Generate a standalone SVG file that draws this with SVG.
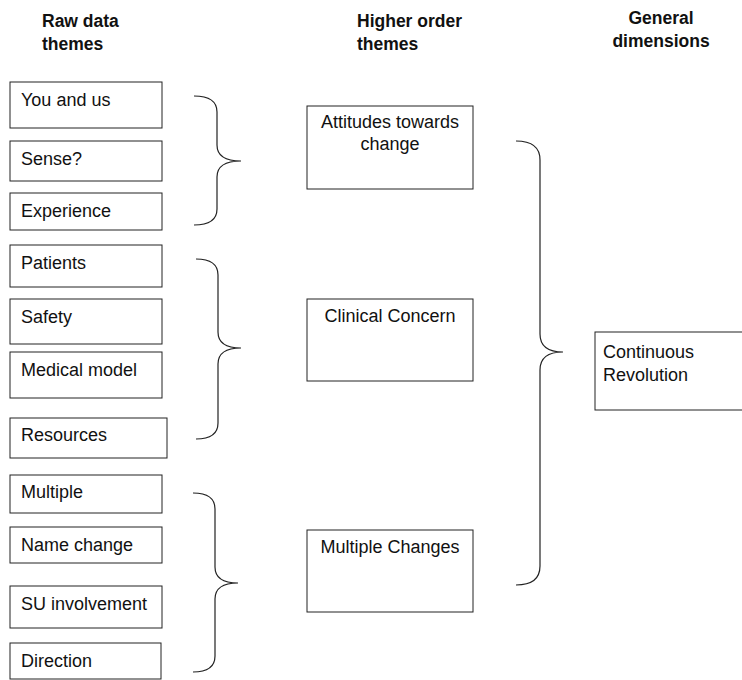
<svg xmlns="http://www.w3.org/2000/svg" width="742" height="680" viewBox="0 0 742 680">
<style>
  .box{fill:#fff;stroke:#222;stroke-width:1}
  .t{font-family:"Liberation Sans",Arial,sans-serif;font-size:18px;fill:#111}
  .h{font-family:"Liberation Sans",Arial,sans-serif;font-size:17.5px;font-weight:bold;fill:#111}
  .c{text-anchor:middle}
  .br{fill:none;stroke:#222;stroke-width:1.2}
</style>
<rect width="742" height="680" fill="#fff"/>
<g id="headers">
  <text class="h" x="42" y="27">Raw data</text>
  <text class="h" x="42" y="50">themes</text>
  <text class="h" x="357" y="27">Higher order</text>
  <text class="h" x="357" y="50">themes</text>
  <text class="h c" x="661" y="24">General</text>
  <text class="h c" x="661" y="47">dimensions</text>
</g>
<g id="connectors">
  <path class="br" d="M194,96 C211,96 217,102 217,112 L217,145 C217,155 224,161 241,161 C224,161 217,167 217,177 L217,209 C217,219 211,225 194,225"/>
  <path class="br" d="M196,259 C212,259 218,265 218,275 L218,332 C218,342 225,348 241,348 C225,348 218,354 218,364 L218,423 C218,433 212,439 196,439"/>
  <path class="br" d="M193,493 C209,493 215,499 215,509 L215,567 C215,577 222,583 238,583 C222,583 215,589 215,599 L215,656 C215,666 209,672 193,672"/>
  <path class="br" d="M516,141 C533,141 540,148 540,160 L540,334 C540,345 547,352 563,352 C547,352 540,359 540,370 L540,566 C540,578 533,585 516,585"/>
</g>
<g id="n-you"><rect class="box" x="10" y="82" width="152" height="46"/><text class="t" x="21" y="106">You and us</text></g>
<g id="n-sense"><rect class="box" x="10" y="141" width="152" height="40"/><text class="t" x="21" y="165">Sense?</text></g>
<g id="n-experience"><rect class="box" x="10" y="193" width="152" height="37"/><text class="t" x="21" y="217">Experience</text></g>
<g id="n-patients"><rect class="box" x="10" y="245" width="152" height="42"/><text class="t" x="21" y="269">Patients</text></g>
<g id="n-safety"><rect class="box" x="10" y="299" width="152" height="45"/><text class="t" x="21" y="323">Safety</text></g>
<g id="n-medical"><rect class="box" x="10" y="352" width="152" height="46"/><text class="t" x="21" y="376">Medical model</text></g>
<g id="n-resources"><rect class="box" x="10" y="418" width="157" height="40"/><text class="t" x="21" y="441">Resources</text></g>
<g id="n-multiple"><rect class="box" x="10" y="475" width="152" height="38"/><text class="t" x="21" y="498">Multiple</text></g>
<g id="n-name"><rect class="box" x="10" y="527" width="152" height="36"/><text class="t" x="21" y="551">Name change</text></g>
<g id="n-su"><rect class="box" x="10" y="586" width="152" height="42"/><text class="t" x="21" y="610">SU involvement</text></g>
<g id="n-direction"><rect class="box" x="10" y="643" width="151" height="36"/><text class="t" x="21" y="667">Direction</text></g>
<g id="n-attitudes"><rect class="box" x="307" y="106" width="166" height="83"/><text class="t c" x="390" y="128">Attitudes towards</text><text class="t c" x="390" y="150">change</text></g>
<g id="n-clinical"><rect class="box" x="307" y="299" width="166" height="82"/><text class="t c" x="390" y="322">Clinical Concern</text></g>
<g id="n-changes"><rect class="box" x="307" y="530" width="166" height="82"/><text class="t c" x="390" y="553">Multiple Changes</text></g>
<g id="n-revolution"><rect class="box" x="595" y="332" width="150" height="78"/><text class="t" x="603" y="358">Continuous</text><text class="t" x="603" y="381">Revolution</text></g>
</svg>
